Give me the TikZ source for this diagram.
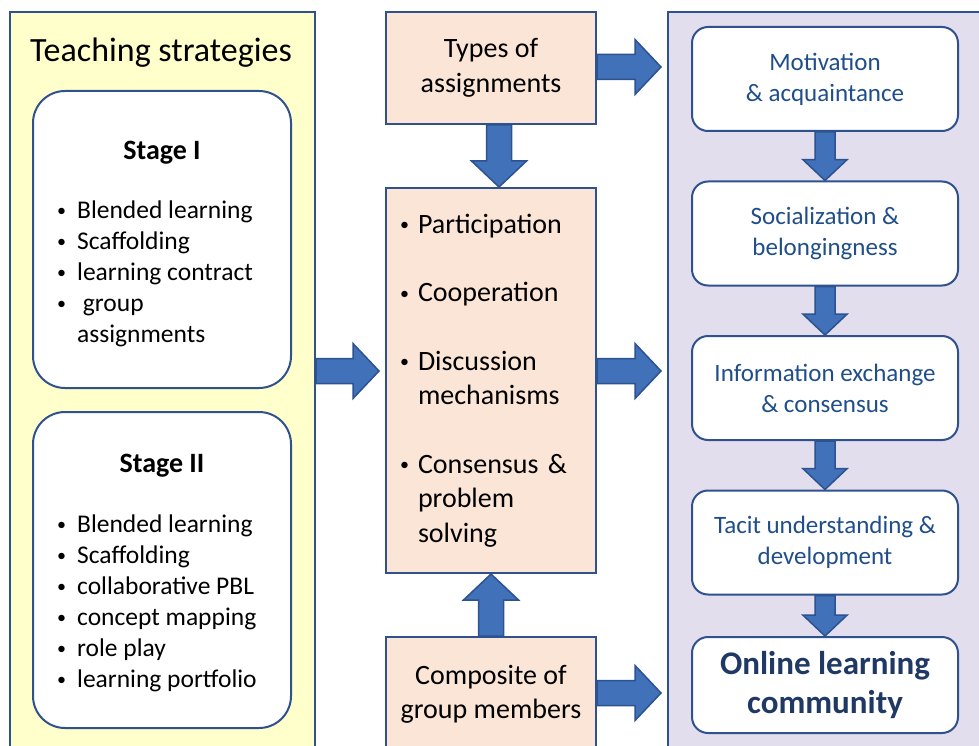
\documentclass[tikz,border=0pt]{standalone}
\usepackage{fontspec}
\setmainfont{Carlito}
\usetikzlibrary{calc,positioning}

\definecolor{frameblue}{HTML}{2F528F}
\definecolor{arrowblue}{HTML}{4171B8}
\definecolor{arrowline}{HTML}{2C5290}
\definecolor{paleyellow}{HTML}{FFFFCC}
\definecolor{palelilac}{HTML}{E2DEED}
\definecolor{peach}{HTML}{FBE5D6}
\definecolor{stepblue}{HTML}{1F4E8A}
\definecolor{navy}{HTML}{1F3864}

% small bullet with a fixed indent
\newcommand\bul[1][18pt]{\makebox[#1][l]{\raisebox{2.5pt}{\fontsize{18}{18}\selectfont\textbullet}}}

% block arrow between two points: [scale]{from}{to}
\newcommand\fatarrow[3][1]{%
  \draw[arrowfill] let \p1=(#2), \p2=(#3),
      \n1={atan2(\y2-\y1,\x2-\x1)},
      \n2={veclen(\x2-\x1,\y2-\y1)-26*#1}
    in ($(\p1)+({\n1+90}:{12.5pt*#1})$)
    -- ($(\p1)+(\n1:{\n2*1pt})+({\n1+90}:{12.5pt*#1})$)
    -- ($(\p1)+(\n1:{\n2*1pt})+({\n1+90}:{27.5pt*#1})$)
    -- (\p2)
    -- ($(\p1)+(\n1:{\n2*1pt})+({\n1-90}:{27.5pt*#1})$)
    -- ($(\p1)+(\n1:{\n2*1pt})+({\n1-90}:{12.5pt*#1})$)
    -- ($(\p1)+({\n1-90}:{12.5pt*#1})$) -- cycle;}

\tikzset{
  panel/.style={draw=frameblue, line width=2pt, inner sep=0pt, anchor=north west},
  stagebox/.style={draw=frameblue, line width=2pt, fill=white, rounded corners=32pt,
    minimum width=258pt, inner sep=0pt},
  listtext/.style={inner sep=0pt, align=left, anchor=west, font=\fontsize{25.5}{31}\selectfont},
  midbox/.style={draw=frameblue, line width=2pt, fill=peach, minimum width=210pt,
    inner sep=0pt, align=center, font=\fontsize{28}{34.5}\selectfont},
  stepbox/.style={draw=frameblue, line width=2pt, fill=white, rounded corners=16pt,
    minimum width=266pt, minimum height=104pt, align=center, text=stepblue,
    font=\fontsize{25}{31}\selectfont},
  arrowfill/.style={draw=arrowline, fill=arrowblue, line width=1.5pt, line join=miter},
}

\begin{document}
\begin{tikzpicture}[x=1pt, y=-1pt]
\useasboundingbox (0,0) rectangle (979,746);
\clip (0,0) rectangle (979,746);

% the two side panels
\node[panel, fill=paleyellow, minimum width=305pt, minimum height=760pt] (strat) at (9,11) {};
\node[panel, fill=palelilac, minimum width=330pt, minimum height=760pt] (comm) at (667,11) {};

\node[font=\fontsize{34}{40}\selectfont] (title) at (161,53) {Teaching strategies};

% stage I
\node[stagebox, minimum height=297pt] (stageI) at (162,239.5) {};
\node[font=\bfseries\fontsize{28}{34}\selectfont] (headI) at (162,153) {Stage I};
\node[listtext] (listI) at (57,274) {\bul[20pt]Blended learning\\
  \bul[20pt]Scaffolding\\
  \bul[20pt]learning contract\\
  \bul[20pt]\ group\\
  \hspace*{20pt}assignments};

% stage II
\node[stagebox, minimum height=316pt] (stageII) at (162,570) {};
\node[font=\bfseries\fontsize{28}{34}\selectfont] (headII) at (162,466) {Stage II};
\node[listtext] (listII) at (57,603.5) {\bul[20pt]Blended learning\\
  \bul[20pt]Scaffolding\\
  \bul[20pt]collaborative PBL\\
  \bul[20pt]concept mapping\\
  \bul[20pt]role play\\
  \bul[20pt]learning portfolio};

% middle column
\node[midbox, minimum height=112pt] (types) at (491,68) {Types of\\assignments};
\node[midbox, minimum height=385pt, text width=182pt, align=left] (mid) at (491,380.5)
  {\bul Participation\\[34pt]
   \bul Cooperation\\[34pt]
   \bul Discussion\\ \hspace*{18pt}mechanisms\\[34pt]
   \bul Consensus \&\\ \hspace*{18pt}problem\\ \hspace*{18pt}solving};
\node[midbox, minimum height=115pt] (comp) at (491,694.5) {Composite of\\group members};

% right column
\node[stepbox] (motiv) at (825,79) {Motivation\\\& acquaintance};
\node[stepbox, below=48.5pt of motiv] (social) {Socialization \&\\belongingness};
\node[stepbox, below=48.5pt of social] (info) {Information exchange\\\& consensus};
\node[stepbox, below=48.5pt of info] (tacit) {Tacit understanding \&\\development};
\node[stepbox, minimum height=96pt, text=navy, font=\bfseries\fontsize{33}{39}\selectfont]
  (olc) at (825,685) {Online learning\\community};

% block arrows
\fatarrow{[xshift=8pt]types.south}{[xshift=8pt]mid.north}
\fatarrow{comp.north}{mid.south}
\fatarrow{strat.east |- 0,371}{$(mid.west |- 0,371)+(-6,0)$}
\fatarrow{types.east |- 0,67}{$(comm.west |- 0,67)+(-6,0)$}
\fatarrow{mid.east |- 0,371}{$(comm.west |- 0,371)+(-6,0)$}
\fatarrow{comp.east |- 0,693}{$(comm.west |- 0,693)+(-6,0)$}
\fatarrow[0.8]{motiv.south}{social.north}
\fatarrow[0.8]{social.south}{info.north}
\fatarrow[0.8]{info.south}{tacit.north}
\fatarrow[0.8]{tacit.south}{olc.north}
\end{tikzpicture}
\end{document}
